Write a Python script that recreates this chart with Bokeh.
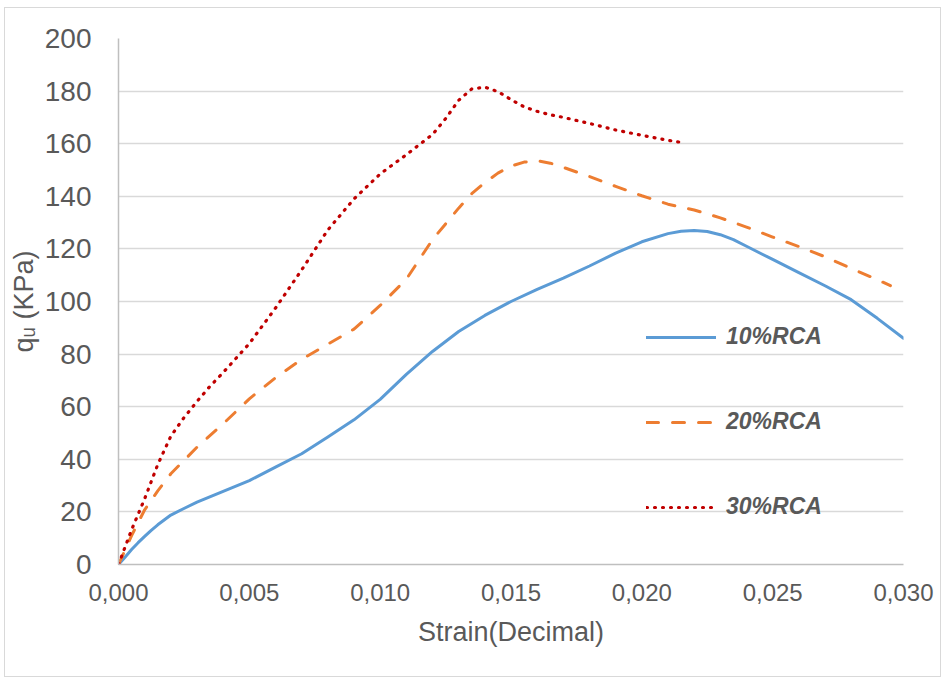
from bokeh.plotting import figure
from bokeh.models import Range1d, FixedTicker, Legend, LegendItem, CustomJSTickFormatter
from bokeh.embed import file_html
from bokeh.resources import INLINE

# ---- data ----
x10 = [0, 0.00025, 0.0005, 0.00075, 0.001, 0.00125, 0.0015, 0.002, 0.0025, 0.003, 0.004, 0.005,
       0.006, 0.007, 0.008, 0.009, 0.010, 0.011, 0.012, 0.013, 0.014, 0.015, 0.016, 0.017,
       0.018, 0.019, 0.020, 0.021, 0.0215, 0.022, 0.0225, 0.023, 0.0235, 0.024, 0.025, 0.026,
       0.027, 0.028, 0.029, 0.030]
y10 = [0, 2.8, 5.7, 8.3, 10.7, 13.0, 15.1, 18.8, 21.3, 23.7, 27.8, 31.9,
       37.0, 42.1, 48.5, 55.0, 62.8, 72.3, 81.0, 88.6, 94.7, 100.0, 104.6, 108.9,
       113.5, 118.4, 122.7, 125.8, 126.7, 127.0, 126.6, 125.4, 123.5, 121.0, 116.0, 111.0,
       106.0, 100.7, 93.6, 86.0]

x20 = [0, 0.0005, 0.001, 0.0015, 0.002, 0.003, 0.004, 0.005, 0.006, 0.007, 0.008, 0.009,
       0.010, 0.011, 0.012, 0.013, 0.0135, 0.014, 0.0145, 0.015, 0.0155, 0.016, 0.0165, 0.017,
       0.018, 0.019, 0.020, 0.021, 0.022, 0.023, 0.024, 0.025, 0.026, 0.027, 0.028, 0.029, 0.0295]
y20 = [0, 11.0, 20.8, 28.0, 34.5, 44.6, 53.5, 63.0, 71.0, 78.0, 83.8, 89.5,
       98.5, 108.5, 123.5, 135.5, 141.0, 145.2, 148.8, 151.5, 153.0, 153.5, 152.6, 151.0,
       147.5, 143.8, 140.2, 137.0, 134.8, 131.8, 128.3, 124.5, 120.9, 117.0, 112.6, 108.3, 106.0]

x30 = [0, 0.0005, 0.001, 0.0015, 0.002, 0.0025, 0.003, 0.0035, 0.004, 0.005, 0.006, 0.007,
       0.008, 0.009, 0.010, 0.011, 0.012, 0.0125, 0.013, 0.0135, 0.014, 0.0145, 0.015, 0.0155,
       0.016, 0.0165, 0.017, 0.018, 0.019, 0.020, 0.021, 0.0215]
y30 = [0, 13.2, 25.0, 38.0, 48.8, 55.8, 62.0, 67.8, 73.0, 84.0, 97.5, 112.0,
       127.2, 139.0, 148.5, 155.8, 163.5, 169.5, 176.5, 180.8, 181.5, 179.8, 176.8, 174.0,
       172.3, 171.0, 170.0, 167.7, 165.2, 163.2, 161.3, 160.5]

series_names = ["10%RCA", "20%RCA", "30%RCA"]
x_ticks = [0, 0.005, 0.010, 0.015, 0.020, 0.025, 0.030]
y_ticks = [0, 20, 40, 60, 80, 100, 120, 140, 160, 180, 200]
x_title = "Strain(Decimal)"
y_title = "q\u1d64 (KPa)"

FONT = "Liberation Sans"
TXT = "#595959"

p = figure(width=937, height=670, x_range=Range1d(0, 0.030), y_range=Range1d(0, 200),
           output_backend="svg", toolbar_location=None,
           min_border_left=113, min_border_right=39, min_border_top=30, min_border_bottom=114)
p.styles = {"margin-left": "4px", "margin-top": "7px", "border": "1px solid #d9d9d9"}
p.outline_line_color = None
p.background_fill_color = "white"
p.border_fill_color = "white"

p.xgrid.visible = False
p.ygrid.grid_line_color = "#d9d9d9"
p.ygrid.grid_line_width = 1.5
p.ygrid.ticker = FixedTicker(ticks=y_ticks)

for ax in (p.xaxis[0], p.yaxis[0]):
    ax.axis_line_color = "#bfbfbf"
    ax.axis_line_width = 1.5
    ax.major_tick_line_color = None
    ax.minor_tick_line_color = None
    ax.major_label_text_font = FONT
    ax.major_label_text_color = TXT
    ax.axis_label_text_font = FONT
    ax.axis_label_text_font_size = "27px"
    ax.axis_label_text_color = TXT
    ax.axis_label_text_font_style = "normal"

p.xaxis.major_label_text_font_size = "24px"
p.yaxis.major_label_text_font_size = "28px"
p.xaxis.ticker = FixedTicker(ticks=x_ticks)
p.yaxis.ticker = FixedTicker(ticks=y_ticks)
p.xaxis.formatter = CustomJSTickFormatter(code="return tick.toFixed(3).replace('.', ',');")
p.xaxis.major_label_standoff = 13
p.yaxis.major_label_standoff = 21
p.xaxis.axis_label = x_title
p.yaxis.axis_label = y_title
p.xaxis.axis_label_standoff = 13
p.yaxis.axis_label_standoff = 3

r10 = p.line(x10, y10, line_color="#5b9bd5", line_width=3, line_join="round", line_cap="round")
r20 = p.line(x20, y20, line_color="#ed7d31", line_width=3, line_dash="12 14",
             line_join="round", line_cap="round")
r30 = p.line(x30, y30, line_color="#c00000", line_width=3.2, line_dash="1 7",
             line_join="round", line_cap="round")

legend = Legend(items=[LegendItem(label=series_names[0], renderers=[r10]),
                       LegendItem(label=series_names[1], renderers=[r20]),
                       LegendItem(label=series_names[2], renderers=[r30])],
                location=(528, 44), orientation="vertical",
                glyph_width=70, glyph_height=24, label_height=24, spacing=58,
                label_standoff=10, padding=0, margin=0,
                border_line_color=None, background_fill_alpha=0)
legend.label_text_font = FONT
legend.label_text_font_size = "23px"
legend.label_text_font_style = "bold italic"
legend.label_text_color = TXT
p.add_layout(legend)

open("out.html", "w").write(file_html(p, INLINE))
